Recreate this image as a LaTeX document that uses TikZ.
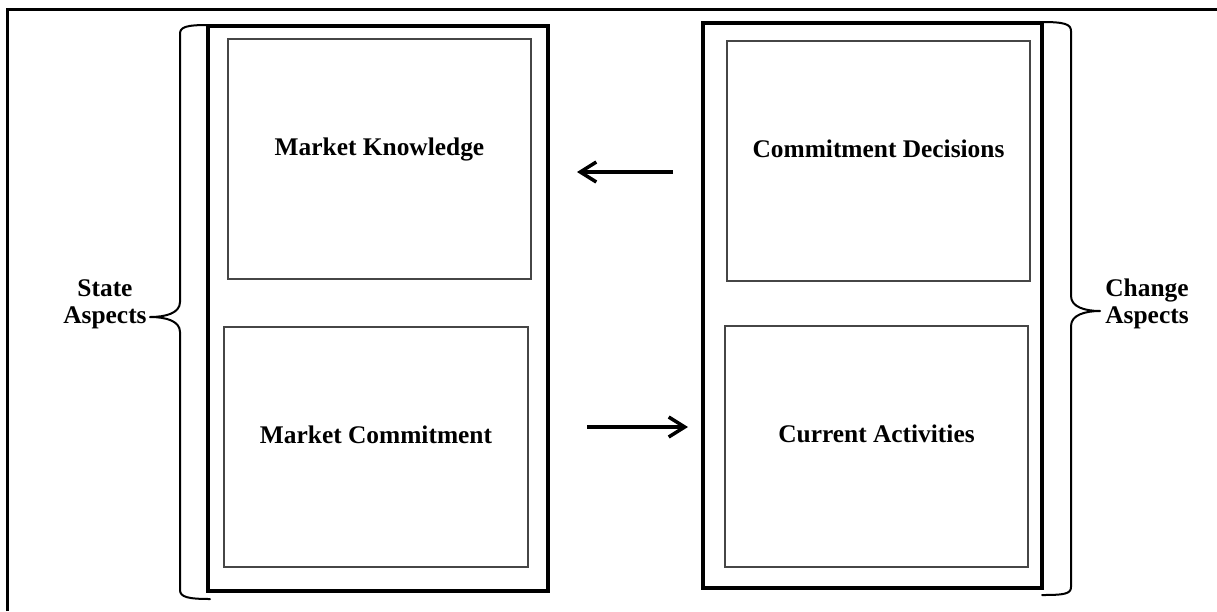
\documentclass[tikz,border=0pt]{standalone}
\usepackage{fontspec}
\setmainfont{Liberation Serif}
\usetikzlibrary{arrows.meta}
\definecolor{innergray}{RGB}{70,70,70}
\begin{document}
\begin{tikzpicture}[x=1pt,y=-1pt,
  outerbox/.style={draw=black, line width=4pt, minimum width=340pt, minimum height=565pt, inner sep=0pt},
  innerbox/.style={draw=innergray, line width=1.4pt, minimum width=303pt, minimum height=240pt, inner sep=0pt},
  lbl/.style={font=\fontsize{25.4}{27}\selectfont\bfseries, inner sep=0pt},
  side/.style={font=\fontsize{25.4}{27}\selectfont\bfseries, align=center, inner sep=0pt},
  bracestyle/.style={line width=2pt, line cap=round, line join=round},
  arr/.style={line width=3.5pt, -{Straight Barb[length=16pt,width=20pt,line width=3.5pt]}}]
\useasboundingbox (0,0) rectangle (1217,611);

% frame (left and top edges only)
\draw[line width=3pt] (7,611) -- (7,9) -- (1217,9);

% the two columns
\node[outerbox] (state) at (378,308.5) {};
\node[outerbox, minimum width=339pt] (change) at (872.5,305.5) {};

% inner boxes
\node[innerbox] (mk) at (379.5,159) {};
\node[innerbox, minimum width=304pt] (mc) at (376,447) {};
\node[innerbox] (cd) at (878.5,161) {};
\node[innerbox, minimum height=241pt] (ca) at (876.5,446.5) {};

% box labels
\node[lbl, anchor=base] (mkt) at ([yshift=4pt]mk.center) {Market Knowledge};
\node[lbl, anchor=base] (mct) at ([yshift=4pt]mc.center) {Market Commitment};
\node[lbl, anchor=base] (cdt) at ([yshift=4pt]cd.center) {Commitment Decisions};
\node[lbl, anchor=base] (cat) at ([yshift=4pt]ca.center) {Current Activities};

% arrows between the columns
\coordinate (a1s) at (673,172);
\coordinate (a1e) at (577,172);
\coordinate (a2s) at (587,427);
\coordinate (a2e) at (688,427);
\draw[arr] (a1s) -- (a1e);
\draw[arr] (a2s) -- (a2e);

% left brace
\draw[bracestyle] (208,25) .. controls (186,25) and (180,27) .. (180,34)
  -- (180,302) .. controls (180,313) and (166,317) .. (150,317)
  .. controls (166,317) and (180,321) .. (180,332)
  -- (180,590) .. controls (180,597) and (188,599) .. (210,599);
% right brace
\draw[bracestyle] (1042,22) .. controls (1064,22) and (1071,24) .. (1071,31)
  -- (1071,296) .. controls (1071,307) and (1085,311) .. (1100,311)
  .. controls (1085,311) and (1071,315) .. (1071,326)
  -- (1071,587) .. controls (1071,594) and (1064,595) .. (1042,595);

% brace labels (base anchor sits on the last line)
\node[side, anchor=base] (st) at (105,323) {State\\Aspects};
\node[side, anchor=base] (ch) at (1147,323) {Change\\Aspects};
\end{tikzpicture}
\end{document}
